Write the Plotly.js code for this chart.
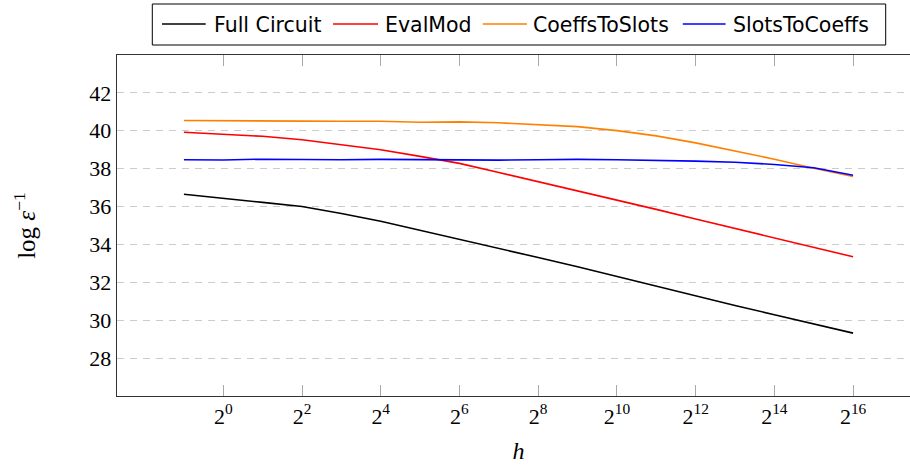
<!DOCTYPE html>
<html>
<head>
<meta charset="utf-8">
<script src="https://cdn.plot.ly/plotly-3.0.1.min.js"></script>
<style>
  html, body { margin: 0; padding: 0; overflow: hidden; background: #fff; }
  #chart { width: 921px; height: 468px; }
</style>
</head>
<body>
<div id="chart"></div>
<script>
// h values (2^-1 ... 2^16)
const hValues = [0.5, 1, 2, 4, 8, 16, 32, 64, 128, 256, 512, 1024, 2048, 4096, 8192, 16384, 32768, 65536];

const fullCircuit   = [36.65, 36.45, 36.22, 36.00, 35.63, 35.22, 34.75, 34.27, 33.80, 33.31, 32.82, 32.31, 31.78, 31.26, 30.78, 30.29, 29.81, 29.32];
const evalMod       = [39.92, 39.80, 39.71, 39.53, 39.27, 39.00, 38.65, 38.28, 37.80, 37.32, 36.84, 36.36, 35.85, 35.34, 34.84, 34.34, 33.84, 33.35];
const coeffsToSlots = [40.54, 40.52, 40.49, 40.51, 40.50, 40.50, 40.45, 40.47, 40.42, 40.33, 40.22, 40.01, 39.73, 39.36, 38.95, 38.50, 38.02, 37.59];
const slotsToCoeffs = [38.47, 38.46, 38.50, 38.48, 38.47, 38.49, 38.47, 38.46, 38.45, 38.47, 38.49, 38.47, 38.44, 38.40, 38.34, 38.22, 38.05, 37.65];

const seriesNames  = ["Full Circuit", "EvalMod", "CoeffsToSlots", "SlotsToCoeffs"];
const seriesValues = [fullCircuit, evalMod, coeffsToSlots, slotsToCoeffs];
const seriesColors = ["#000000", "#ff0000", "#ff8000", "#0000ff"];

const xTickVals = [1, 4, 16, 64, 256, 1024, 4096, 16384, 65536];
const xTickText = ["2<sup>0</sup>", "2<sup>2</sup>", "2<sup>4</sup>", "2<sup>6</sup>", "2<sup>8</sup>",
                   "2<sup>10</sup>", "2<sup>12</sup>", "2<sup>14</sup>", "2<sup>16</sup>"];
const yTickVals = [28, 30, 32, 34, 36, 38, 40, 42];

const traces = seriesNames.map((name, i) => ({
  type: "scatter",
  mode: "lines",
  name: name,
  x: hValues,
  y: seriesValues[i],
  line: { color: seriesColors[i], width: 1.6 },
  showlegend: false
}));

// manual legend (pixel layout converted to paper coords)
const L = 117, W = 803, T = 55, H = 341;
const px = v => (v - L) / W;
const py = v => (T + H - v) / H;
const shapes = [{
  type: "rect", xref: "paper", yref: "paper",
  x0: px(152.3), x1: px(885.7), y0: py(45), y1: py(4),
  line: { color: "#000", width: 1 }, fillcolor: "#fff"
}];
const sampleX = [[162, 205.7], [333, 378], [482.8, 527], [682.8, 725.6]];
const textX = [211.5, 382.8, 531.2, 731.2];
const annotations = [];
seriesNames.forEach((name, i) => {
  shapes.push({
    type: "line", xref: "paper", yref: "paper",
    x0: px(sampleX[i][0]), x1: px(sampleX[i][1]), y0: py(24), y1: py(24),
    line: { color: seriesColors[i], width: 1.6 }
  });
  annotations.push({
    xref: "paper", yref: "paper", x: px(textX[i]), y: py(24.5),
    xanchor: "left", yanchor: "middle", showarrow: false,
    text: name,
    font: { family: "DejaVu Sans", size: 20.5, color: "#000" }
  });
});

const serif = { family: "Liberation Serif", size: 22, color: "#000" };

const layout = {
  width: 921, height: 468,
  margin: { l: L, r: 921 - L - W, t: T, b: 468 - T - H },
  paper_bgcolor: "#fff", plot_bgcolor: "#fff",
  showlegend: false,
  xaxis: {
    type: "log",
    range: [Math.log10(Math.pow(2, -2.7)), Math.log10(Math.pow(2, 17.7))],
    tickvals: xTickVals, ticktext: xTickText,
    ticks: "inside", ticklen: 11, tickwidth: 1, tickcolor: "#a8a8a8",
    showgrid: false, zeroline: false,
    showline: true, linecolor: "#333", linewidth: 1.3, mirror: "ticks",
    tickfont: serif,
    title: { text: "<i>h</i>", font: { family: "Liberation Serif", size: 24, color: "#000" }, standoff: 14 },
    fixedrange: true
  },
  yaxis: {
    range: [26, 44],
    tickvals: yTickVals,
    ticks: "inside", ticklen: 0,
    showgrid: true, gridcolor: "#cccccc", gridwidth: 1, griddash: "7px,6px",
    zeroline: false,
    showline: true, linecolor: "#333", linewidth: 1.3, mirror: false,
    tickfont: serif,
    title: { text: "log <i>ε</i><sup>−1</sup>", font: { family: "Liberation Serif", size: 25, color: "#000" }, standoff: 46 },
    fixedrange: true
  },
  shapes: shapes,
  annotations: annotations
};

Plotly.newPlot("chart", traces, layout, { staticPlot: true, displayModeBar: false });
</script>
</body>
</html>
